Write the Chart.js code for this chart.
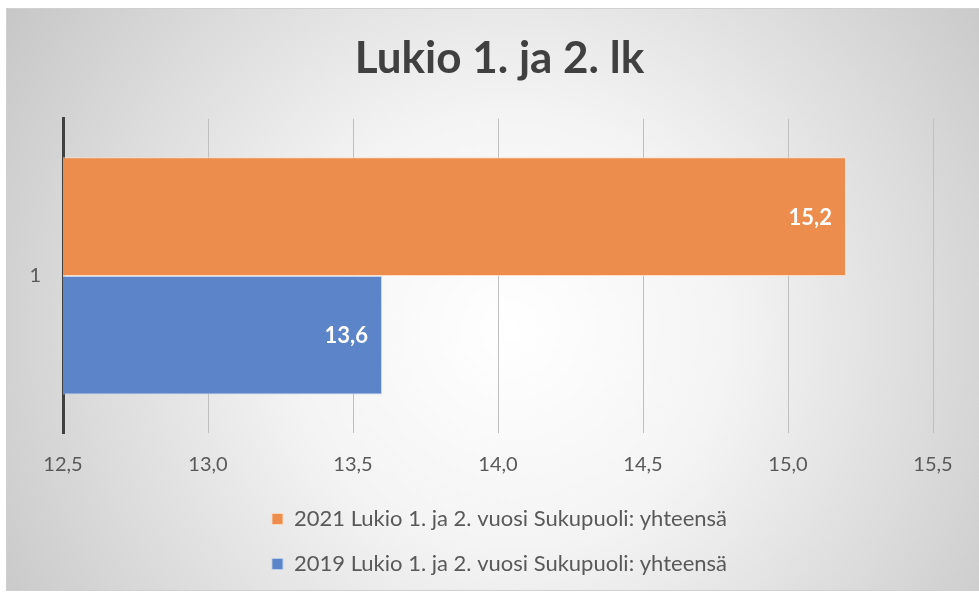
<!DOCTYPE html>
<html>
<head>
<meta charset="utf-8">
<script src="https://cdn.jsdelivr.net/npm/chart.js@4.4.0/dist/chart.umd.min.js"></script>
<style>
  html, body { margin: 0; padding: 0; background: #ffffff; }
  #wrap { width: 979px; height: 593px; position: relative; }
</style>
</head>
<body>
<div id="wrap"><canvas id="c" width="979" height="593"></canvas></div>
<script>
const categories = ['1'];
const seriesNames = ['2021 Lukio 1. ja 2. vuosi Sukupuoli: yhteensä', '2019 Lukio 1. ja 2. vuosi Sukupuoli: yhteensä'];
const values2021 = [15.2];
const values2019 = [13.6];
const xTicks = [12.5, 13.0, 13.5, 14.0, 14.5, 15.0, 15.5];
const titleText = 'Lukio 1. ja 2. lk';

const FONT = 'Lato, "Open Sans", sans-serif';
const fmt = v => v.toFixed(1).replace('.', ',');

const bgPlugin = {
  id: 'bg',
  beforeDraw(chart) {
    const ctx = chart.ctx;
    const W = chart.width, H = chart.height;
    ctx.save();
    ctx.fillStyle = '#ffffff';
    ctx.fillRect(0, 0, W, H);
    const x0 = 6, y0 = 8, x1 = W + 2, y1 = H - 3;
    const g = ctx.createRadialGradient(510, 330, 0, 510, 330, 620);
    g.addColorStop(0, '#ffffff');
    g.addColorStop(0.35, '#f4f4f4');
    g.addColorStop(1, '#c4c4c4');
    ctx.fillStyle = g;
    ctx.fillRect(x0, y0, x1 - x0, y1 - y0);
    ctx.strokeStyle = '#d0d0d0';
    ctx.lineWidth = 1;
    ctx.strokeRect(x0 + 0.5, y0 + 0.5, x1 - x0, y1 - y0);
    ctx.restore();
  }
};

// The original frame is wider than the visible crop: centre title and legend on it
const shiftPlugin = {
  id: 'shiftBoxes',
  afterLayout(chart) {
    const dx = 30;
    [chart.titleBlock, chart.legend].forEach(b => {
      if (b) { b.left += dx; b.right += dx; }
    });
  }
};

const labelPlugin = {
  id: 'barLabels',
  afterDatasetsDraw(chart) {
    const ctx = chart.ctx;
    ctx.save();
    ctx.font = 'bold 22px ' + FONT;
    ctx.fillStyle = '#ffffff';
    ctx.textAlign = 'right';
    ctx.textBaseline = 'middle';
    chart.data.datasets.forEach((ds, i) => {
      const meta = chart.getDatasetMeta(i);
      meta.data.forEach((bar, j) => {
        ctx.fillText(fmt(ds.data[j]), bar.x - 14, bar.y + 1);
      });
    });
    ctx.restore();
  }
};

new Chart(document.getElementById('c'), {
  type: 'bar',
  data: {
    labels: categories,
    datasets: [
      { label: seriesNames[0], data: values2021, backgroundColor: 'rgb(236,140,77)', borderColor: 'rgba(255,220,190,0.9)', borderWidth: 1, borderSkipped: 'start' },
      { label: seriesNames[1], data: values2019, backgroundColor: 'rgb(92,132,200)', borderColor: 'rgba(190,210,240,0.9)', borderWidth: 1, borderSkipped: 'start' }
    ]
  },
  options: {
    indexAxis: 'y',
    responsive: false,
    animation: false,
    devicePixelRatio: 1,
    layout: { padding: { left: 6, right: 46, top: 8, bottom: 8 } },
    datasets: { bar: { categoryPercentage: 0.755, barPercentage: 1.0 } },
    scales: {
      x: {
        type: 'linear',
        min: xTicks[0],
        max: xTicks[xTicks.length - 1],
        afterBuildTicks: s => { s.ticks = xTicks.map(v => ({ value: v })); },
        afterFit: s => { s.height = 52; },
        ticks: {
          callback: v => fmt(v),
          color: '#595959',
          font: { family: FONT, size: 20 },
          padding: 20
        },
        grid: { color: '#bfbfbf', lineWidth: 1, drawTicks: false },
        border: { display: false }
      },
      y: {
        afterFit: s => { s.width = 57; },
        ticks: { color: '#595959', font: { family: FONT, size: 20 }, padding: 22 },
        grid: { display: false, drawTicks: false },
        border: { display: true, color: '#404040', width: 3 }
      }
    },
    plugins: {
      title: {
        display: true,
        text: titleText,
        color: '#404040',
        font: { family: FONT, size: 44, weight: 'bold' },
        padding: { top: 24, bottom: 34 }
      },
      legend: {
        position: 'bottom',
        labels: {
          color: '#595959',
          font: { family: FONT, size: 22 },
          boxWidth: 11,
          boxHeight: 11,
          padding: 23
        }
      },
      tooltip: { enabled: false }
    }
  },
  plugins: [bgPlugin, shiftPlugin, labelPlugin]
});
</script>
</body>
</html>
